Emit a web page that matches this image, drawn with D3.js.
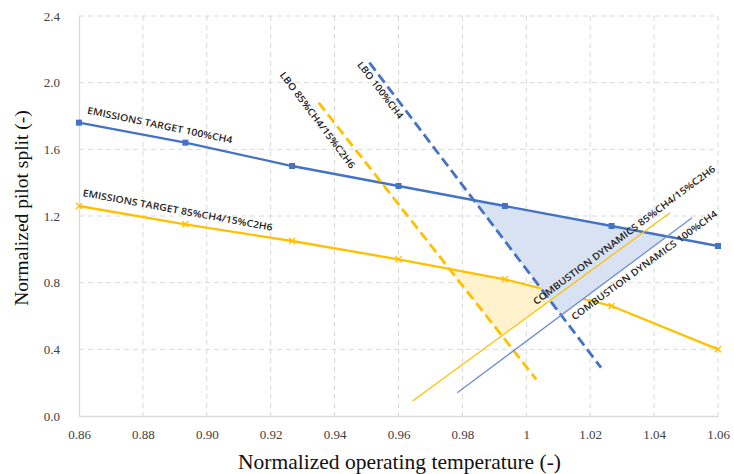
<!DOCTYPE html>
<html>
<head>
<meta charset="utf-8">
<script src="https://cdn.jsdelivr.net/npm/d3@7"></script>
<style>
  html, body { margin: 0; padding: 0; background: #fff; }
  svg { display: block; }
  .tick text { font-family: 'Liberation Serif', 'Times New Roman', serif; }
</style>
</head>
<body>
<svg id="chart" width="734" height="474"></svg>
<script>
// Axis ticks
const xTicks = [0.86, 0.88, 0.90, 0.92, 0.94, 0.96, 0.98, 1.00, 1.02, 1.04, 1.06];
const xTickLabels = ["0.86", "0.88", "0.90", "0.92", "0.94", "0.96", "0.98", "1", "1.02", "1.04", "1.06"];
const yTicks = [0, 0.4, 0.8, 1.2, 1.6, 2.0, 2.4];
const yTickLabels = ["0.0", "0.4", "0.8", "1.2", "1.6", "2.0", "2.4"];

// Emissions target curves (normalized temperature vs pilot split)
const tempPoints = [0.86, 0.8933, 0.9267, 0.96, 0.9933, 1.0267, 1.06];
const emissions100 = [1.76, 1.64, 1.50, 1.38, 1.26, 1.14, 1.02];
const emissions85 = [1.26, 1.15, 1.05, 0.94, 0.82, 0.66, 0.40];

// Lean blow-out limits (straight lines, two end points each)
const lbo100X = [0.9509, 1.0234];
const lbo100Y = [2.12, 0.29];
const lbo85X = [0.9350, 1.0031];
const lbo85Y = [1.88, 0.22];

// Combustion dynamics limits
const cd85X = [0.9644, 1.0450];
const cd85Y = [0.09, 1.22];
const cd100X = [0.9784, 1.0519];
const cd100Y = [0.14, 1.19];

// Line labels: text, anchor in data units, rotation in degrees, drawn length
const labelText = ["EMISSIONS TARGET 100%CH4", "EMISSIONS TARGET 85%CH4/15%C2H6",
                   "LBO 85%CH4/15%C2H6", "LBO 100%CH4",
                   "COMBUSTION DYNAMICS 85%CH4/15%C2H6", "COMBUSTION DYNAMICS 100%CH4"];
const labelX = [0.8853, 0.8909, 0.9347, 0.9544, 1.0306, 1.0369];
const labelY = [1.746, 1.236, 1.776, 1.956, 1.086, 0.906];
const labelAngle = [11.7, 10.4, 53, 52.6, -36.9, -36.2];
const labelLen = [148, 193, 118, 69, 225, 178];

const BLUE = "#4472C4", GOLD = "#FFC000";
const BLUE_FILL = "#D9E2F3", GOLD_FILL = "#FFF2CC";
const GRID = "#D9D9D9";
const SERIF = "'Liberation Serif', 'Times New Roman', serif";

const svg = d3.select("#chart");
const plotL = 79, plotR = 718, plotT = 16, plotB = 416;

const x = d3.scaleLinear().domain([0.86, 1.06]).range([plotL, plotR]);
const y = d3.scaleLinear().domain([0, 2.4]).range([plotB, plotT]);

// Grid
const grid = svg.append("g");
grid.selectAll("line.h").data(yTicks.slice(1)).join("line")
  .attr("x1", plotL).attr("x2", plotR)
  .attr("y1", d => y(d)).attr("y2", d => y(d))
  .attr("stroke", GRID).attr("stroke-width", 1).attr("stroke-dasharray", "5,4");
grid.selectAll("line.v").data(xTicks.slice(1)).join("line")
  .attr("x1", d => x(d)).attr("x2", d => x(d))
  .attr("y1", plotT).attr("y2", plotB)
  .attr("stroke", GRID).attr("stroke-width", 1).attr("stroke-dasharray", "5,4");

// Axes
const xAxis = d3.axisBottom(x).tickValues(xTicks).tickFormat((d, i) => xTickLabels[i]).tickSize(0).tickPadding(14);
const yAxis = d3.axisLeft(y).tickValues(yTicks).tickFormat((d, i) => yTickLabels[i]).tickSize(0).tickPadding(19);
const gx = svg.append("g").attr("transform", `translate(0,${plotB})`).call(xAxis);
const gy = svg.append("g").attr("transform", `translate(${plotL},0)`).call(yAxis);
[gx, gy].forEach(g => {
  g.attr("font-family", SERIF).attr("font-size", 13);
  g.select(".domain").attr("stroke", GRID).attr("stroke-width", 1.3);
  g.selectAll("text").style("font-family", SERIF).style("font-size", "13px").attr("fill", "#404040");
});

// Axis titles
svg.append("text")
  .attr("x", (plotL + plotR) / 2 + 1).attr("y", 469)
  .attr("text-anchor", "middle")
  .style("font-family", SERIF).style("font-size", "21.5px").attr("fill", "#111")
  .text("Normalized operating temperature (-)");
svg.append("text")
  .attr("transform", `translate(28,${(plotT + plotB) / 2 - 8}) rotate(-90)`)
  .attr("text-anchor", "middle")
  .style("font-family", SERIF).style("font-size", "19.5px").attr("fill", "#111")
  .text("Normalized pilot split (-)");

// Geometry helpers (data space)
function pts(xs, ys) { return xs.map((v, i) => ({ x: v, y: ys[i] })); }
function lineIntersect(a1, a2, b1, b2) {
  const d = (a1.x - a2.x) * (b1.y - b2.y) - (a1.y - a2.y) * (b1.x - b2.x);
  const t = ((a1.x - b1.x) * (b1.y - b2.y) - (a1.y - b1.y) * (b1.x - b2.x)) / d;
  return { x: a1.x + t * (a2.x - a1.x), y: a1.y + t * (a2.y - a1.y), t };
}
// intersection of a polyline with an infinite straight line
function polyIntersect(poly, l1, l2) {
  for (let i = 0; i < poly.length - 1; i++) {
    const p = lineIntersect(poly[i], poly[i + 1], l1, l2);
    if (p.t >= 0 && p.t <= 1) return { x: p.x, y: p.y };
  }
  return null;
}
function region(poly, lbo, cd) {
  const a = polyIntersect(poly, lbo[0], lbo[1]);
  const b = polyIntersect(poly, cd[0], cd[1]);
  const c = lineIntersect(cd[0], cd[1], lbo[0], lbo[1]);
  const out = [a];
  poly.forEach(p => { if (p.x > a.x && p.x < b.x) out.push(p); });
  out.push(b, { x: c.x, y: c.y });
  return out;
}

const e100 = pts(tempPoints, emissions100);
const e85 = pts(tempPoints, emissions85);
const lbo100 = pts(lbo100X, lbo100Y);
const lbo85 = pts(lbo85X, lbo85Y);
const cd85 = pts(cd85X, cd85Y);
const cd100 = pts(cd100X, cd100Y);

const line = d3.line().x(d => x(d.x)).y(d => y(d.y));

// Operating window, blended fuel
svg.append("path").attr("d", line(region(e85, lbo85, cd85)) + "Z").attr("fill", GOLD_FILL);

// Emissions target 85%CH4/15%C2H6 (drawn under the blue window)
svg.append("path").attr("d", line(e85)).attr("fill", "none").attr("stroke", GOLD).attr("stroke-width", 2.3);
const xm = 3;
svg.append("g").selectAll("path").data(e85).join("path")
  .attr("d", d => `M${x(d.x) - xm},${y(d.y) - xm}L${x(d.x) + xm},${y(d.y) + xm}M${x(d.x) - xm},${y(d.y) + xm}L${x(d.x) + xm},${y(d.y) - xm}`)
  .attr("stroke", GOLD).attr("stroke-width", 1.4);

// Operating window, pure methane
svg.append("path").attr("d", line(region(e100, lbo100, cd100)) + "Z").attr("fill", BLUE_FILL);

// Emissions target 100%CH4
svg.append("path").attr("d", line(e100)).attr("fill", "none").attr("stroke", BLUE).attr("stroke-width", 2.3);
svg.append("g").selectAll("rect").data(e100).join("rect")
  .attr("x", d => x(d.x) - 3).attr("y", d => y(d.y) - 3)
  .attr("width", 6).attr("height", 6).attr("fill", BLUE);

// LBO limits
svg.append("path").attr("d", line(lbo85)).attr("fill", "none").attr("stroke", GOLD)
  .attr("stroke-width", 2.8).attr("stroke-dasharray", "10,5");
svg.append("path").attr("d", line(lbo100)).attr("fill", "none").attr("stroke", BLUE)
  .attr("stroke-width", 2.8).attr("stroke-dasharray", "10,5");

// Combustion dynamics limits
svg.append("path").attr("d", line(cd85)).attr("fill", "none").attr("stroke", GOLD).attr("stroke-width", 1.3);
svg.append("path").attr("d", line(cd100)).attr("fill", "none").attr("stroke", "#6F8FD0").attr("stroke-width", 1.3);

// Line labels
svg.append("g").selectAll("text").data(labelText).join("text")
  .attr("transform", (d, i) => `translate(${x(labelX[i])},${y(labelY[i])}) rotate(${labelAngle[i]})`)
  .attr("text-anchor", "middle").attr("dominant-baseline", "central")
  .attr("font-family", "'Open Sans', 'Noto Sans', sans-serif")
  .attr("font-size", 9.5).attr("font-weight", 600).attr("fill", "#1f1f1f")
  .attr("textLength", (d, i) => labelLen[i]).attr("lengthAdjust", "spacingAndGlyphs")
  .text(d => d);
</script>
</body>
</html>
